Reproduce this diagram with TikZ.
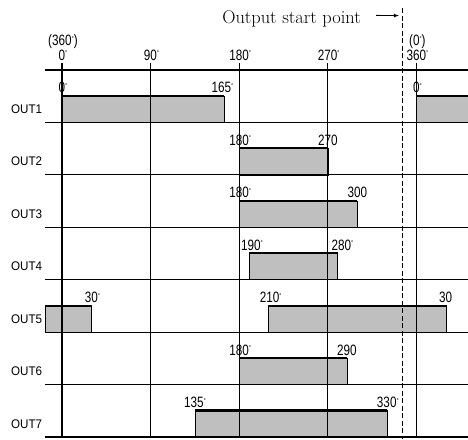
\documentclass[tikz,border=0pt]{standalone}
\usepackage{fontspec}
\usepackage{tikz}
\newfontfamily\numfont[FakeStretch=0.78]{Liberation Sans}
\newfontfamily\outfont[FakeStretch=0.93]{Liberation Sans}
\newcommand{\dg}{\raisebox{4.5pt}{\fontsize{7}{7}\selectfont °}}

\begin{document}
\begin{tikzpicture}[x=1pt, y=-1pt,
    grade/.style={line width=1.1pt},
    pulso/.style={fill=black!25, draw=black, line width=0.5pt},
    topo/.style={line width=2.2pt},
    num/.style={font=\numfont\fontsize{15}{15}\selectfont, inner sep=0pt, anchor=base},
    rotulo/.style={font=\outfont\fontsize{12.5}{12.5}\selectfont, inner sep=0pt, anchor=base west},
  ]
    \useasboundingbox (0,0) rectangle (468,439);

    % titulo e seta
    \node[font=\fontsize{18.4}{18.4}\selectfont, inner sep=0pt, anchor=base east] (titulo) at (361,23) {Output start point};
    \coordinate (inicio) at (399,15.6);
    \draw[-latex, line width=0.8pt] ([xshift=15pt,yshift=3pt]titulo.east) -- (inicio);

    % nomes das saidas
    \foreach \i in {1,...,7}
        \node[rotulo] (out\i) at (11,70+52.43*\i-9) {OUT\i};

    % eixo x em graus
    \begin{scope}[xshift=62pt, x=0.9844pt]
        % pulsos
        \foreach \a/\b/\i in {0/165/1, 360/412.4/1, 180/270/2, 180/300/3, 190/280/4,
                              -17.3/30/5, 210/390/5, 180/290/6, 135/330/7}{
            \pgfmathsetmacro\yb{70+52.43*\i}
            \fill[pulso] (\a,\yb) rectangle (\b,\yb-26.5);
            \draw[topo] (\a,\yb-26.5) -- (\b,\yb-26.5);
        }

        \draw[grade] (-17.3,70) -- (412.4,70);
        \foreach \i in {1,...,7}
            \draw[grade] (-17.3,70+52.43*\i) -- (412.4,70+52.43*\i);
        \foreach \a in {0,90,180,270,360}
            \draw[grade] (\a,63) -- (\a,437.1);
        \draw[line width=0.8pt, dash pattern=on 5pt off 2.5pt] (345.4,8) -- (345.4,439);

        % graus no topo
        \node[num] (g360) at (1,45.5) {(360\dg)};
        \node[num] (g0) at (1,60) {0\dg};
        \node[num] (g90) at (91,60) {90\dg};
        \node[num] (g180) at (181,60) {180\dg};
        \node[num] (g270) at (271,60) {270\dg};
        \node[num] (g0b) at (361,45.5) {(0\dg)};
        \node[num] (g360b) at (361,60) {360\dg};

        % graus dos pulsos
        \foreach \a/\t/\i [count=\k] in {1/0\dg/1, 163/165\dg/1, 361/0\dg/1,
                                         181/180\dg/2, 270/270/2,
                                         181/180\dg/3, 300/300/3,
                                         193/190\dg/4, 285/280\dg/4,
                                         31/30\dg/5, 212/210\dg/5, 389.6/30/5,
                                         181/180\dg/6, 289.5/290/6,
                                         135/135\dg/7, 331/330\dg/7}
            \node[num] (ang\k) at (\a,70+52.43*\i-29.5) {\t};
    \end{scope}

\end{tikzpicture}
\end{document}
